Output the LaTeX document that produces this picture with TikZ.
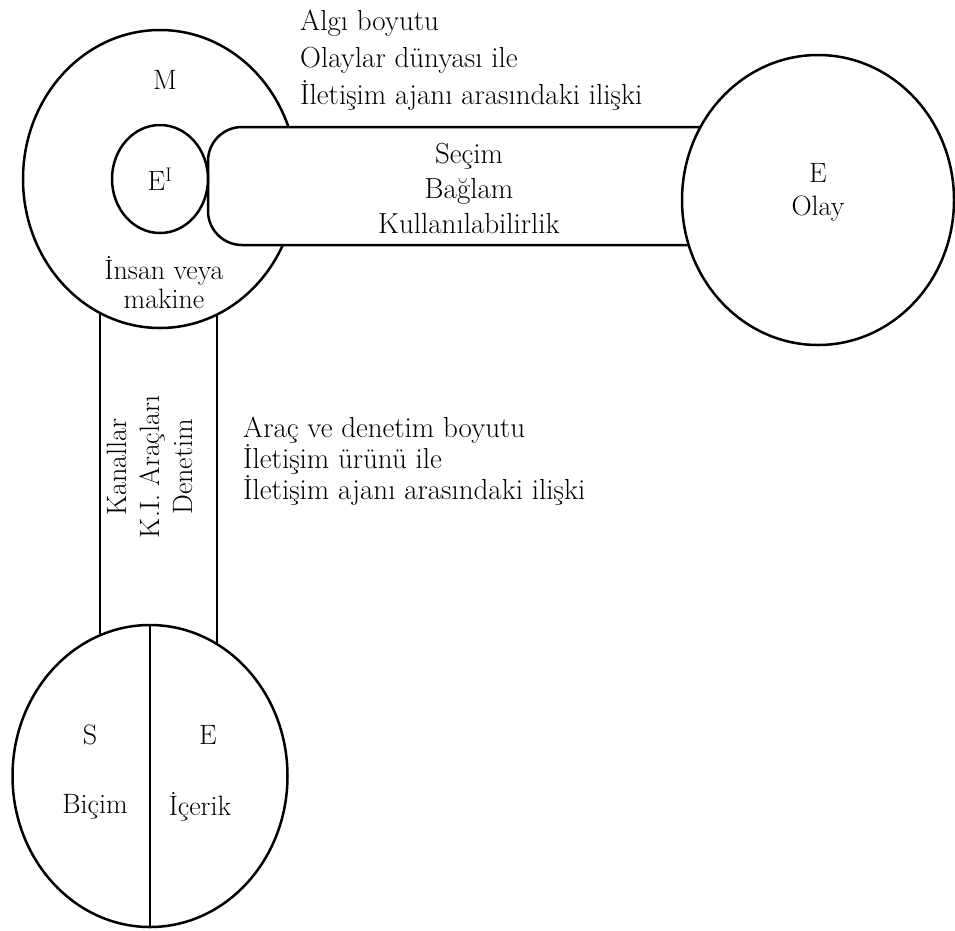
\documentclass[tikz,border=0pt]{standalone}
\usepackage{fontspec}
\usepackage{tikz}
\usetikzlibrary{positioning,shapes.geometric}
\tikzset{%
  disc/.style={draw, ellipse, line width=2.5pt, fill=white, inner sep=0pt},% circles
  band/.style={draw, line width=2.5pt, fill=white},% bands between circles
  txt/.style={inner sep=0pt, font=\fontsize{28}{32}\selectfont},% labels
  lines/.style={txt, align=#1}% multi line labels
}
\begin{document}
\begin{tikzpicture}[x=1pt, y=-1pt]
\useasboundingbox (0,0) rectangle (955,930);

%%%% bands and circles
\draw[band] (100,300) rectangle (217,660);
\node[disc, minimum width=274pt, minimum height=298pt] (m) at (160,179) {};
\node[disc, minimum width=275pt, minimum height=302pt] (low) at (150,776) {};
\draw[line width=2.5pt] (low.north) -- (low.south);
\draw[band, rounded corners=34pt] (760,127) -- (208,127) -- (208,245) -- (760,245);
\node[disc, minimum width=96pt, minimum height=108pt] (ei) at (160,179) {};
\node[disc, minimum width=272pt, minimum height=290pt] (e) at (818,200) {};

%%%% labels
\node[txt] (mlab) at (165,80) {M};
\node[txt] (eilab) at (ei) {E\textsuperscript{I}};
\node[lines=center, font=\fontsize{28}{29}\selectfont] (insan) at (164,283) {İnsan veya\\makine};
\node[lines=left, anchor=west, font=\fontsize{29}{37}\selectfont] (algi) at (300,60)
  {Algı boyutu\\Olaylar dünyası ile\\İletişim ajanı arasındaki ilişki};
\node[lines=center, font=\fontsize{29}{35}\selectfont] (secim) at (469,188)
  {Seçim\\Bağlam\\Kullanılabilirlik};
\node[lines=center, font=\fontsize{28}{33}\selectfont] (olay) at (818,192) {E\\Olay};
\node[lines=center, rotate=90, font=\fontsize{28}{33}\selectfont] (kanal) at (150,467)
  {Kanallar\\K.I. Araçları\\Denetim};
\node[lines=left, anchor=west, font=\fontsize{29}{28.5}\selectfont] (arac) at (243,461)
  {Araç ve denetim boyutu\\İletişim ürünü ile\\İletişim ajanı arasındaki ilişki};
\node[txt] (s) at (90,735) {S};
\node[txt] (elow) at (208,735) {E};
\node[txt] (bicim) at (95,807) {Biçim};
\node[txt] (icerik) at (200,807) {İçerik};
\end{tikzpicture}
\end{document}
